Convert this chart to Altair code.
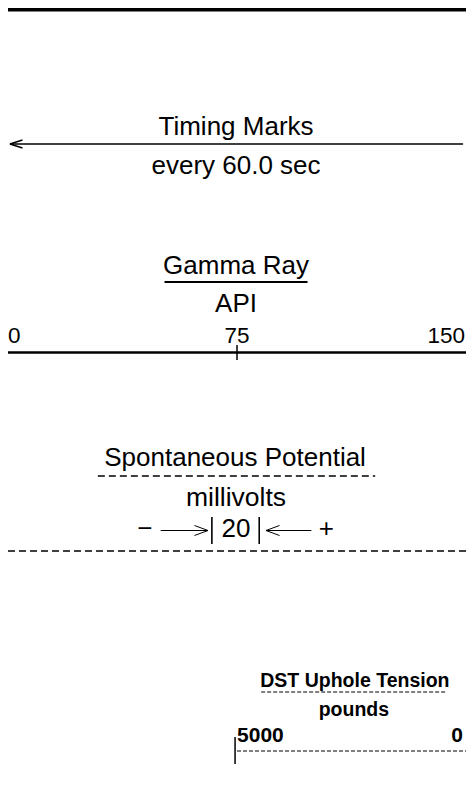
import altair as alt
import pandas as pd

# ---------------- data (log header content) ----------------
timing_title = "Timing Marks"
timing_unit = "every 60.0 sec"
gr_title = "Gamma Ray"
gr_unit = "API"
gr_scale_values = [0, 75, 150]
sp_title = "Spontaneous Potential"
sp_unit = "millivolts"
sp_scale_value = 20
sp_signs = ["\u2212", "+"]
dst_title = "DST Uphole Tension"
dst_unit = "pounds"
dst_scale_values = [5000, 0]

# ---------------- layout ----------------
FONT = "Liberation Sans"
W, H = 458, 785
TRACK_L, TRACK_R = 0, 474
MID = 236
XS = alt.Scale(domain=[TRACK_L, TRACK_R], nice=False, zero=False)
YS = alt.Scale(domain=[8, 8 + H], reverse=True, nice=False, zero=False)


def gr_pos(v):
    lo, hi = gr_scale_values[0], gr_scale_values[-1]
    return TRACK_L + (v - lo) / (hi - lo) * (TRACK_R - TRACK_L)


def text_layer(rows, size, align="center", weight="normal", dx=0):
    df = pd.DataFrame(rows, columns=["text", "x", "y"])
    return alt.Chart(df).mark_text(
        font=FONT, fontSize=size, align=align, baseline="alphabetic",
        fontWeight=weight, dx=dx, color="black"
    ).encode(
        x=alt.X("x:Q", scale=XS, axis=None),
        y=alt.Y("y:Q", scale=YS, axis=None),
        text="text:N",
    )


def rule_layer(rows, width, dash=None):
    df = pd.DataFrame(rows, columns=["x", "y", "x2", "y2"])
    kw = dict(color="black", strokeWidth=width)
    if dash:
        kw["strokeDash"] = dash
    return alt.Chart(df).mark_rule(**kw).encode(
        x=alt.X("x:Q", scale=XS, axis=None),
        y=alt.Y("y:Q", scale=YS, axis=None),
        x2="x2:Q",
        y2="y2:Q",
    )


big_center = text_layer([
    [timing_title, MID, 135],
    [timing_unit, MID, 174],
    [gr_title, MID, 274],
    [gr_unit, MID, 312],
    [sp_title, 235, 466],
    [sp_scale_value and str(sp_scale_value), MID, 537],
    [sp_signs[0], 141.5, 537],
    [sp_signs[1], 329.5, 537],
], 26)
sp_unit_txt = text_layer([[sp_unit, 236, 506]], 26.5)

gr_nums_c = text_layer([[str(gr_scale_values[1]), gr_pos(gr_scale_values[1]), 343]], 22.5)
gr_nums_l = text_layer([[str(gr_scale_values[0]), gr_pos(gr_scale_values[0]), 343]], 22.5, align="left", dx=0)
gr_nums_r = text_layer([[str(gr_scale_values[2]), gr_pos(gr_scale_values[2]), 343]], 22.5, align="right", dx=-1)

DST_L = 235
DST_MID = 359
dst_center = text_layer([
    [dst_title, DST_MID, 687],
    [dst_unit, DST_MID - 1, 716],
], 19.5, weight="bold")
dst_l = text_layer([[str(dst_scale_values[0]), DST_L, 742]], 21, align="left", weight="bold", dx=2)
dst_r = text_layer([[str(dst_scale_values[1]), TRACK_R, 742]], 21, align="right", weight="bold", dx=-3)

top_line = rule_layer([[TRACK_L, 9.5, TRACK_R, 9.5]], 4)
timing_arrow = rule_layer([
    [2, 144, 471, 144],
    [2, 144, 15, 140],
    [2, 144, 15, 148],
], 1.5)
gr_lines = rule_layer([
    [162, 282, 310, 282],
], 2)
gr_axis = rule_layer([[TRACK_L, 352.5, TRACK_R, 352.5]], 2.5)
gr_tick = rule_layer([[gr_pos(gr_scale_values[1]), 345, gr_pos(gr_scale_values[1]), 360]], 1.5)

sp_bars = rule_layer([
    [211, 517, 211, 544],
    [260, 517, 260, 544],
], 1.6)
sp_arrows = rule_layer([
    [158, 530.5, 207, 530.5],
    [207, 530.5, 193, 525.5],
    [207, 530.5, 193, 535.5],
    [267, 530.5, 314, 530.5],
    [267, 530.5, 281, 525.5],
    [267, 530.5, 281, 535.5],
], 1)
sp_dashes = rule_layer([
    [93, 476, 380, 476],
    [TRACK_L, 551, TRACK_R, 551],
], 1.5, dash=[7, 4])

dst_dashes = rule_layer([
    [262, 692, 454, 692],
    [DST_L + 2, 751, TRACK_R, 751],
], 1, dash=[4, 2])
dst_bar = rule_layer([[DST_L, 737, DST_L, 764]], 1.5)

chart = alt.layer(
    top_line, timing_arrow, gr_lines, gr_axis, gr_tick, sp_bars, sp_arrows,
    sp_dashes, dst_dashes, dst_bar,
    big_center, sp_unit_txt, gr_nums_c, gr_nums_l, gr_nums_r, dst_center, dst_l, dst_r,
).properties(
    width=W, height=H, padding=0,
    autosize=alt.AutoSizeParams(type="none"),
).configure_view(strokeWidth=0)

chart.save("out.html", embed_options={"renderer": "svg", "actions": False})
